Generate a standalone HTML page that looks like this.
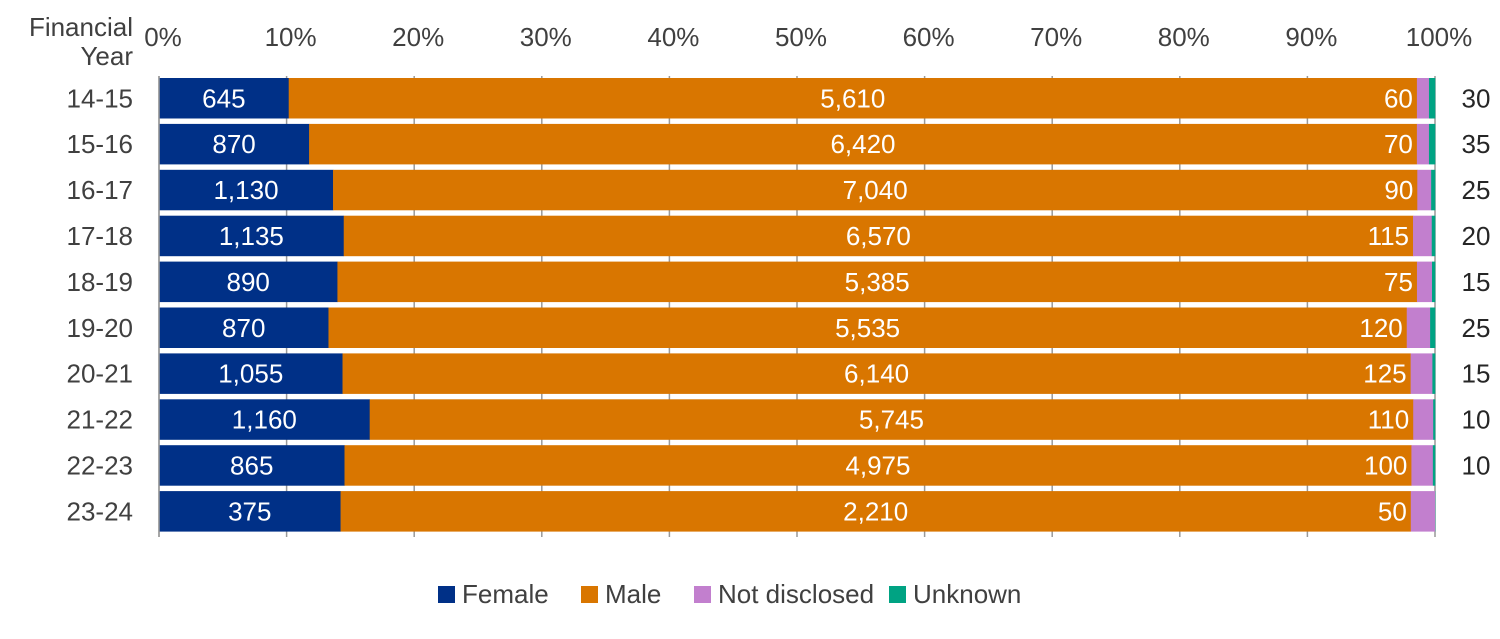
<!DOCTYPE html>
<html><head><meta charset="utf-8"><style>body{margin:0;background:#fff}svg{display:block}text{font-family:"Liberation Sans",sans-serif}</style></head><body>
<svg width="1500" height="639" xmlns="http://www.w3.org/2000/svg" id="s"></svg>
<script>
const d=[["14-15",645,5610,60,30],["15-16",870,6420,70,35],["16-17",1130,7040,90,25],["17-18",1135,6570,115,20],["18-19",890,5385,75,15],["19-20",870,5535,120,25],["20-21",1055,6140,125,15],["21-22",1160,5745,110,10],["22-23",865,4975,100,10],["23-24",375,2210,50,0]];
const L=159,W=1276,cols=["#003087","#d97600","#c27fce","#00a383"],FS=26;
let h='';
for(let i=0;i<=10;i++){const x=L+W*i/10;h+=`<line x1="${x}" y1="76" x2="${x}" y2="537" stroke="#999" stroke-width="1.5"/>`;h+=`<text x="${x+4}" y="46" font-size="${FS}" fill="#404040" text-anchor="middle">${i*10}%</text>`;}
h+=`<text x="133" y="36" font-size="${FS}" fill="#404040" text-anchor="end">Financial</text><text x="133" y="65" font-size="${FS}" fill="#404040" text-anchor="end">Year</text>`;
const f=n=>n.toLocaleString('en-US');
d.forEach((r,i)=>{const y=78+i*45.9,hh=40.5,cy=y+hh/2+9;const t=r[1]+r[2]+r[3]+r[4];let x=L;const xs=[];
for(let k=1;k<=4;k++){const w=W*r[k]/t;h+=`<rect x="${x}" y="${y}" width="${w+0.3}" height="${hh}" fill="${cols[k-1]}"/>`;xs.push([x,w]);x+=w;}
h+=`<text x="${xs[0][0]+xs[0][1]/2}" y="${cy}" font-size="${FS}" fill="#fff" text-anchor="middle">${f(r[1])}</text>`;
h+=`<text x="${xs[1][0]+xs[1][1]/2}" y="${cy}" font-size="${FS}" fill="#fff" text-anchor="middle">${f(r[2])}</text>`;
h+=`<text x="${xs[2][0]-4}" y="${cy}" font-size="${FS}" fill="#fff" text-anchor="end">${f(r[3])}</text>`;
if(r[4])h+=`<text x="1476" y="${cy}" font-size="${FS}" fill="#262626" text-anchor="middle">${r[4]}</text>`;
h+=`<text x="133" y="${cy}" font-size="${FS}" fill="#404040" text-anchor="end">${r[0]}</text>`;});
h+=`<line x1="${L}" y1="76" x2="${L}" y2="537" stroke="#999" stroke-width="1.5"/>`;
const lg=[["Female",438],["Male",581],["Not disclosed",694],["Unknown",889]];
lg.forEach((g,k)=>{h+=`<rect x="${g[1]}" y="586" width="17" height="17" fill="${cols[k]}"/><text x="${g[1]+24}" y="603" font-size="${FS}" fill="#404040">${g[0]}</text>`;});
document.getElementById('s').innerHTML=h;
</script>
</body></html>
